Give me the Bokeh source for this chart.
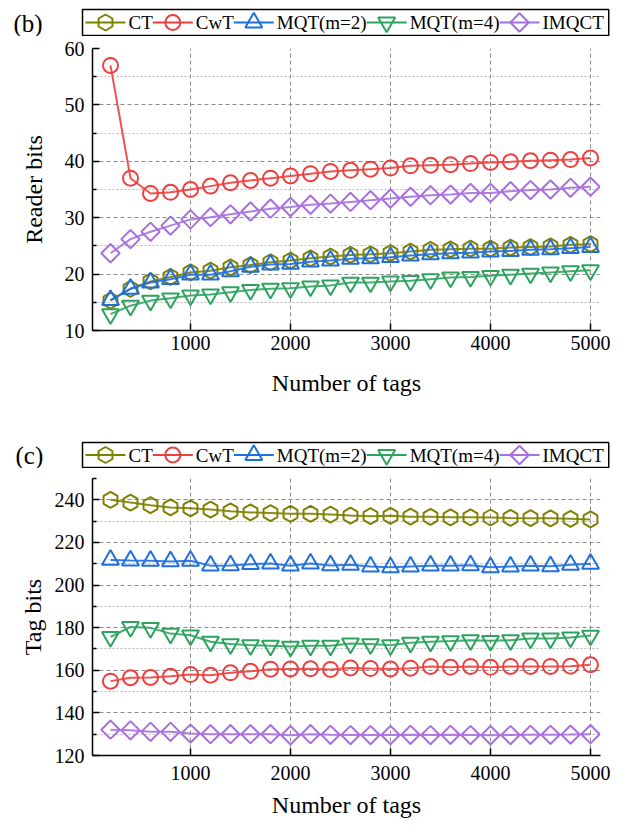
import numpy as np
from bokeh.plotting import figure
from bokeh.models import FixedTicker, Range1d
from bokeh.core.properties import value
from bokeh.layouts import column
from bokeh.embed import file_html
from bokeh.resources import INLINE

# ---------------- data ----------------
num_tags = [200, 400, 600, 800, 1000, 1200, 1400, 1600, 1800, 2000, 2200, 2400, 2600,
            2800, 3000, 3200, 3400, 3600, 3800, 4000, 4200, 4400, 4600, 4800, 5000]

series_names = ["CT", "CwT", "MQT(m=2)", "MQT(m=4)", "IMQCT"]

reader_ct = [15.3, 17.4, 18.7, 19.5, 20.3, 20.6, 21.2, 21.6, 22.1, 22.4, 22.8, 23.1, 23.4,
             23.5, 23.7, 24.0, 24.3, 24.4, 24.5, 24.5, 24.7, 24.8, 24.9, 25.2, 25.3]
reader_cwt = [57.0, 37.0, 34.3, 34.5, 35.0, 35.6, 36.2, 36.6, 37.0, 37.4, 37.8, 38.2, 38.4,
              38.6, 38.8, 39.2, 39.3, 39.4, 39.6, 39.8, 39.9, 40.1, 40.2, 40.3, 40.6]
reader_mqt2 = [15.4, 17.4, 18.5, 19.1, 19.9, 19.9, 20.5, 21.3, 21.7, 21.8, 22.2, 22.4, 22.7,
               22.8, 23.0, 23.3, 23.5, 23.7, 23.8, 24.0, 24.1, 24.3, 24.4, 24.6, 24.8]
reader_mqt4 = [12.9, 14.4, 15.3, 15.7, 16.2, 16.4, 16.8, 17.2, 17.4, 17.5, 17.8, 18.0, 18.5,
               18.5, 18.7, 18.8, 19.1, 19.4, 19.5, 19.7, 19.9, 20.1, 20.3, 20.5, 20.7]
reader_imqct = [23.7, 26.2, 27.5, 28.6, 29.7, 30.1, 30.6, 31.1, 31.6, 31.9, 32.3, 32.5, 32.8,
                33.1, 33.4, 33.7, 34.0, 34.1, 34.4, 34.4, 34.7, 34.9, 35.0, 35.3, 35.5]

tag_ct = [240.0, 238.7, 237.5, 236.4, 236.0, 235.4, 234.6, 234.1, 233.8, 233.4, 233.4, 233.1, 232.6,
          232.3, 232.5, 232.1, 232.0, 231.8, 231.8, 231.7, 231.5, 231.4, 231.3, 231.1, 230.8]
tag_cwt = [154.9, 156.5, 156.6, 157.2, 158.0, 157.7, 158.8, 159.5, 160.5, 160.6, 160.7, 160.4, 161.1,
           160.8, 160.6, 161.0, 161.8, 161.4, 161.8, 161.4, 161.8, 161.8, 161.8, 161.9, 162.6]
tag_mqt2 = [211.8, 211.5, 211.4, 211.1, 211.4, 209.1, 209.2, 209.8, 210.1, 209.1, 210.1, 209.2, 209.5,
            208.7, 208.3, 208.7, 209.1, 209.1, 209.3, 208.3, 208.7, 209.1, 208.8, 209.5, 210.0]
tag_mqt4 = [175.7, 180.3, 179.9, 177.2, 176.4, 173.4, 172.3, 171.8, 171.5, 171.1, 171.5, 171.5, 172.6,
            172.3, 171.8, 172.9, 173.4, 173.7, 174.1, 173.8, 174.1, 174.9, 174.9, 175.4, 176.3]
tag_imqct = [132.1, 131.8, 131.1, 131.1, 130.3, 130.0, 130.0, 130.0, 130.0, 129.5, 130.0, 129.7, 129.6,
             129.6, 129.6, 129.7, 129.6, 129.7, 129.6, 129.5, 129.6, 129.7, 129.7, 129.8, 130.0]

x_ticks = [1000, 2000, 3000, 4000, 5000]
reader_ticks = [10, 20, 30, 40, 50, 60]
reader_minor = [15, 25, 35, 45, 55]
tag_ticks = [120, 140, 160, 180, 200, 220, 240]
tag_minor = [130, 150, 170, 190, 210, 230, 250]

# ---------------- styles ----------------
colors = ["#808000", "#EF3E3E", "#1F6FDF", "#2CA45E", "#A86FDE"]
markers = ["hex", "circle", "triangle", "inverted_triangle", "square"]
angles = [np.pi / 2, 0, 0, 0, np.pi / 4]
sizes = [16, 15, 17, 17, 13]
FONT = "'Liberation Serif', 'Times New Roman', 'DejaVu Serif', serif"
W = 613
X0, X1 = 20, 5100

# Times/Liberation Serif advance widths (per 1000 em) used to lay out the legend row
ADV = {"C": 667, "T": 611, "w": 722, "M": 889, "Q": 722, "(": 333, ")": 333,
       "m": 778, "=": 564, "2": 500, "4": 500, "I": 333}
LEG_FS = 19
GLYPH_W = 40
STANDOFF = 3
PAD = 3


def text_w(s):
    return sum(ADV.get(ch, 500) for ch in s) * LEG_FS / 1000.0


def no_frame_align(fig):
    try:
        fig.frame_align = False
    except Exception:
        pass


def make_header(tag, height, box_left, box_bottom, box_top, tag_x, tag_y):
    h = figure(width=W, height=height, output_backend="svg", toolbar_location=None,
               x_range=Range1d(0, W), y_range=Range1d(0, height),
               x_axis_type=None, y_axis_type=None,
               min_border_left=0, min_border_right=0, min_border_top=0, min_border_bottom=0)
    h.outline_line_color = None
    h.xgrid.visible = False
    h.ygrid.visible = False
    no_frame_align(h)

    widths = [text_w(n) for n in series_names]
    total = 2 * PAD + sum(GLYPH_W + STANDOFF + w for w in widths) + 2
    mid = (box_bottom + box_top) / 2.0
    h.quad(left=[box_left], right=[box_left + total], bottom=[box_bottom], top=[box_top],
           fill_color="white", line_color="black", line_width=1.5)
    gx = box_left + PAD
    for name, w, c, m, a, s in zip(series_names, widths, colors, markers, angles, sizes):
        h.segment(x0=[gx], y0=[mid], x1=[gx + GLYPH_W], y1=[mid], line_color=c, line_width=2)
        h.scatter(x=[gx + GLYPH_W / 2.0], y=[mid], marker=m, angle=a, size=s,
                  line_color=c, line_width=2, fill_alpha=0)
        h.text(x=[gx + GLYPH_W + STANDOFF], y=[mid], text=[name],
               text_font=value(FONT), text_font_size=f"{LEG_FS}px",
               text_baseline="middle", text_align="left", text_color="black")
        gx += GLYPH_W + STANDOFF + w
    h.text(x=[tag_x], y=[tag_y], text=[tag], text_font=value(FONT),
           text_font_size="25px", text_baseline="middle", text_align="left",
           text_color="black")
    return h


def make_panel(series, ticks, minor, y_range, ylabel, height, top, bottom,
               ylabel_standoff, x_standoff, xlabel_standoff):
    p = figure(width=W, height=height, output_backend="svg", toolbar_location=None,
               x_range=Range1d(X0, X1), y_range=Range1d(*y_range),
               min_border_left=92, min_border_right=13,
               min_border_top=top, min_border_bottom=bottom)
    p.outline_line_color = None
    p.background_fill_color = "white"
    no_frame_align(p)

    for vals, c, m, a, s in zip(series, colors, markers, angles, sizes):
        p.line(num_tags, vals, line_color=c, line_width=2, line_alpha=0.9)
        p.scatter(num_tags, vals, marker=m, angle=a, size=s, line_color=c,
                  line_width=2, fill_alpha=0)

    xt = FixedTicker(ticks=x_ticks)
    yt = FixedTicker(ticks=ticks, minor_ticks=minor)
    p.xaxis.ticker = xt
    p.yaxis.ticker = yt
    p.xgrid.ticker = xt
    p.ygrid.ticker = yt

    for ax in (p.xaxis[0], p.yaxis[0]):
        ax.axis_line_color = "black"
        ax.axis_line_width = 1.5
        ax.major_tick_line_color = "black"
        ax.major_tick_line_width = 1.5
        ax.major_tick_in = 7
        ax.major_tick_out = 0
        ax.minor_tick_in = 4
        ax.minor_tick_out = 0
        ax.minor_tick_line_width = 1.5
        ax.major_label_text_font = FONT
        ax.major_label_text_font_size = "20px"
        ax.major_label_text_color = "black"
        ax.axis_label_text_font = FONT
        ax.axis_label_text_font_size = "24px"
        ax.axis_label_text_font_style = "normal"
        ax.axis_label_text_color = "black"
    p.xaxis.minor_tick_line_color = None
    p.yaxis.minor_tick_line_color = "black"
    p.xaxis.major_label_standoff = x_standoff
    p.yaxis.major_label_standoff = 8
    p.xaxis.axis_label = "Number of tags"
    p.xaxis.axis_label_standoff = xlabel_standoff
    p.yaxis.axis_label = ylabel
    p.yaxis.axis_label_standoff = ylabel_standoff

    p.xgrid.grid_line_color = "#8c8c8c"
    p.xgrid.grid_line_dash = "4 3"
    p.xgrid.grid_line_width = 1
    p.ygrid.grid_line_color = "#8c8c8c"
    p.ygrid.grid_line_dash = "4 3"
    p.ygrid.grid_line_width = 1
    p.ygrid.minor_grid_line_color = "#b8b8b8"
    p.ygrid.minor_grid_line_dash = "2 2"
    p.ygrid.minor_grid_line_width = 1
    return p


h1 = make_header("(b)", 36, 82, 1, 27, 13, 13)
p1 = make_panel([reader_ct, reader_cwt, reader_mqt2, reader_mqt4, reader_imqct],
                reader_ticks, reader_minor, (10, 60), "Reader bits",
                height=392, top=12, bottom=98, ylabel_standoff=15,
                x_standoff=5, xlabel_standoff=17)
h2 = make_header("(c)", 40, 82, 1, 26, 15, 13)
p2 = make_panel([tag_ct, tag_cwt, tag_mqt2, tag_mqt4, tag_imqct],
                tag_ticks, tag_minor, (120, 250), "Tag bits",
                height=352, top=10, bottom=61, ylabel_standoff=6,
                x_standoff=10, xlabel_standoff=9)

layout = column(h1, p1, h2, p2, spacing=0)
open("out.html", "w").write(file_html(layout, INLINE))
